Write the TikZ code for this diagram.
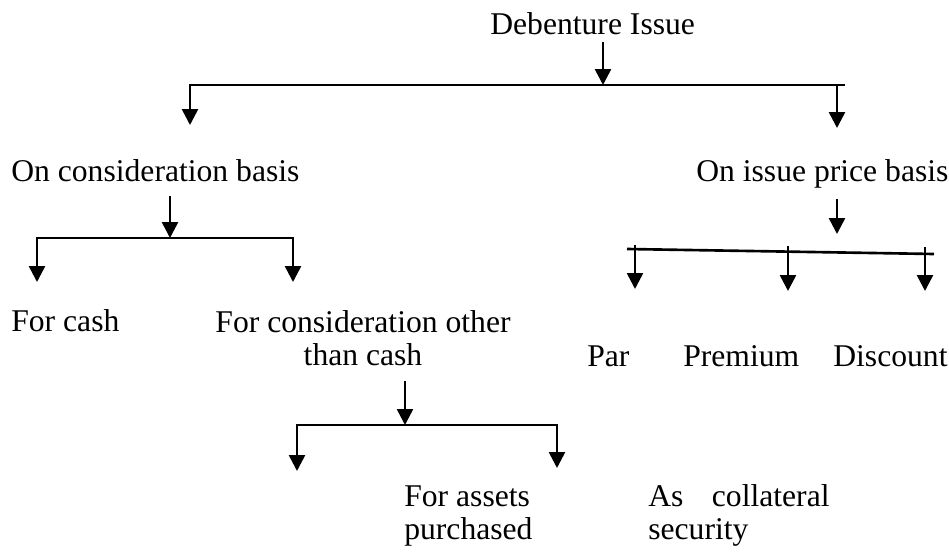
\documentclass[tikz,border=0pt]{standalone}
\usepackage{fontspec}
\setmainfont{Liberation Serif}
\usetikzlibrary{positioning, calc, arrows.meta}

\begin{document}
\begin{tikzpicture}[
  x=0.2mm, y=-0.2mm,
  font=\fontsize{18}{18.8}\selectfont,
  >={Triangle[length=3.2mm,width=3.2mm]},
  line width=1.5pt,
  txt/.style={inner xsep=0pt, inner ysep=1mm},
]
\useasboundingbox (0,0) rectangle (949,552);

% =====================================================================
% Root and first split
% =====================================================================
\node[txt, anchor=base west] (deb) at (489,35) {Debenture Issue};

\coordinate (b1L) at (190,85);
\coordinate (b1M) at (603,85);
\coordinate (b1R) at (845,85);
\coordinate (t1L) at (190,125);
\coordinate (t1R) at (837,128);

\draw[->] (deb.south -| b1M) -- (b1M);
\draw[<-] (t1L) -- (b1L) -- (b1R);
\draw[->] (t1R |- b1R) -- (t1R);

\node[txt, anchor=base west] (cons) at (10,181)  {On consideration basis};
\node[txt, anchor=base west] (iss)  at (695,181) {On issue price basis};

% =====================================================================
% Consideration basis (left)
% =====================================================================
\coordinate (b2L) at (37,238);
\coordinate (b2M) at (170,238);
\coordinate (b2R) at (293,238);
\coordinate (t2L) at (37,282);
\coordinate (t2R) at (293,282);

\draw[->, shorten <=1.6mm] (cons.south -| b2M) -- (b2M);
\draw[<->] (t2L) -- (b2L) -- (b2R) -- (t2R);

\node[txt, anchor=base west] (cash) at (10,331) {For cash};
\node[txt, anchor=north, align=center] (oth) at (363,304.5)
  {For consideration other\\than cash};

% =====================================================================
% Issue price basis (right)
% =====================================================================
\coordinate (t4)  at (837,234);
\coordinate (b4L) at (627,249);
\coordinate (b4R) at (934,254);

\draw[->, shorten <=1mm] (iss.south -| t4) -- (t4);
\draw (b4L) -- (b4R);

\foreach \x/\ys/\ye [count=\k] in {635/245/289, 788/246/291, 925/247/291}{
  \coordinate (s\k) at (\x,\ys);
  \coordinate (e\k) at (\x,\ye);
  \draw[->] (s\k) -- (e\k);
}

\node[txt, anchor=base west] (par)  at (586,366) {Par};
\node[txt, anchor=base west] (prem) at (682,366) {Premium};
\node[txt, anchor=base west] (disc) at (832,366) {Discount};

% =====================================================================
% Other than cash (bottom)
% =====================================================================
\coordinate (b3L) at (297,425);
\coordinate (b3M) at (405,425);
\coordinate (b3R) at (557,425);
\coordinate (t3L) at (297,471);
\coordinate (t3R) at (557,468);

\draw[->, shorten <=1.8mm] (oth.south -| b3M) -- (b3M);
\draw[<->] (t3L) -- (b3L) -- (b3R) -- (t3R);

\node[txt, anchor=north west, align=left] (asset) at (403,479)
  {For assets\\purchased};
\node[txt, anchor=north west, align=left] (coll) at (647,478.5)
  {As\hspace{0.9em}collateral\\security};

\end{tikzpicture}
\end{document}
